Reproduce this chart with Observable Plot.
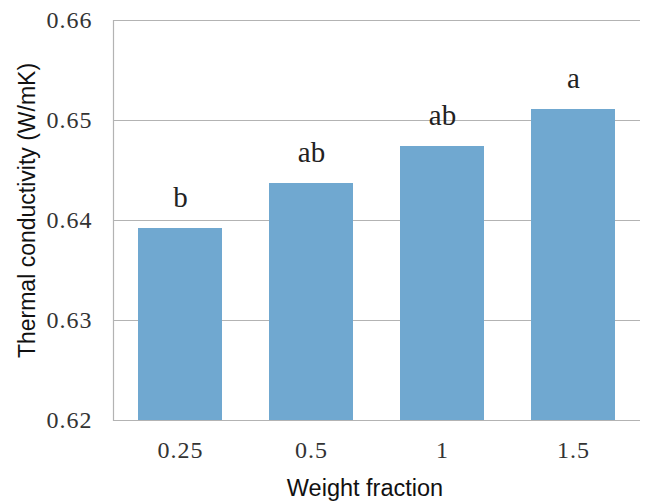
<!DOCTYPE html>
<html>
<head>
<meta charset="utf-8">
<script src="https://cdn.jsdelivr.net/npm/d3@7"></script>
<script src="https://cdn.jsdelivr.net/npm/@observablehq/plot@0.6"></script>
<style>
  html, body { margin: 0; padding: 0; background: #fff; }
  [aria-label$="tick label"] { letter-spacing: 1px; }
</style>
</head>
<body>
<div id="chart"></div>
<script>
const categories = ["0.25", "0.5", "1", "1.5"];
const values = [0.6392, 0.6437, 0.6474, 0.6511];
const letters = ["b", "ab", "ab", "a"];
const yTicks = [0.62, 0.63, 0.64, 0.65, 0.66];

const data = categories.map((c, i) => ({cat: c, value: values[i], letter: letters[i]}));

const chart = Plot.plot({
  width: 645,
  height: 501,
  marginLeft: 113,
  marginRight: 5,
  marginTop: 20,
  marginBottom: 81,
  style: {background: "#fff", overflow: "visible"},
  x: {domain: categories, paddingInner: 0.355, paddingOuter: 0.1775, label: null},
  y: {domain: [0.62, 0.66], label: null},
  marks: [
    Plot.ruleY(yTicks, {stroke: "#b3b3b3", strokeWidth: 1.2, strokeOpacity: 1}),
    Plot.frame({anchor: "left", stroke: "#b3b3b3", strokeWidth: 1.2}),
    Plot.barY(data, {x: "cat", y1: 0.62, y2: "value", fill: "#70a8d0"}),
    Plot.text(data, {x: "cat", y: "value", text: "letter", lineAnchor: "bottom", dy: -22,
      fontFamily: "Liberation Serif", fontSize: 29, fill: "#222"}),
    Plot.axisY(yTicks, {tickSize: 0, tickPadding: 21, tickFormat: d => d.toFixed(2),
      fontFamily: "Liberation Serif", fontSize: 24, fill: "#333", label: null}),
    Plot.axisX({tickSize: 0, tickPadding: 20, fontFamily: "Liberation Serif", fontSize: 24, fill: "#333", label: null}),
    Plot.text(["Thermal conductivity (W/mK)"], {frameAnchor: "left", dx: -86, dy: -10, rotate: -90,
      textAnchor: "middle", lineAnchor: "middle",
      fontFamily: "Liberation Sans", fontSize: 23, fill: "#111"}),
    Plot.text(["Weight fraction"], {frameAnchor: "bottom", dy: 68, dx: -12, lineAnchor: "middle",
      fontFamily: "Liberation Sans", fontSize: 23.5, fill: "#111"})
  ]
});
document.getElementById("chart").appendChild(chart);
</script>
</body>
</html>
